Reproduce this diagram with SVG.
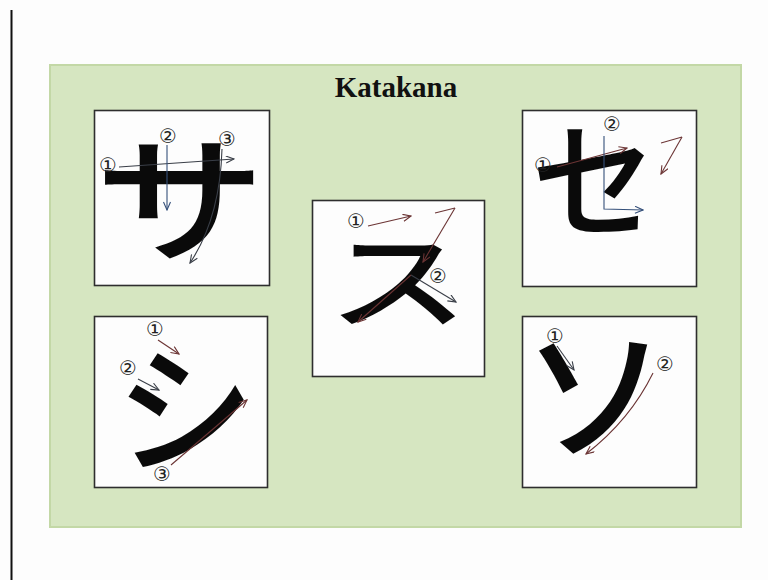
<svg xmlns="http://www.w3.org/2000/svg" width="768" height="580" viewBox="0 0 768 580">
<defs>
<style>
.panel{fill:#d6e6c1;stroke:#c3d8a6;stroke-width:2}
.box{fill:#fdfdfd;stroke:#2e2e2e;stroke-width:1.6}
.kana{font-family:"Noto Sans CJK JP","Noto Sans CJK SC",sans-serif;font-weight:500;fill:#0a0a0a;text-anchor:middle;dominant-baseline:central}
.num{font-family:"DejaVu Sans",sans-serif;font-size:20px;fill:#222;text-anchor:middle;dominant-baseline:central}
.a{fill:none;stroke:#3a3f48;stroke-width:1.1;marker-end:url(#ah)}
.r{fill:none;stroke:#6b3434;stroke-width:1.1;marker-end:url(#ahr)}
.b{fill:none;stroke:#35507a;stroke-width:1.1;marker-end:url(#ahb)}
.ln{fill:none;stroke:#6b3434;stroke-width:1.1}
.title{font-family:"Liberation Serif",serif;font-weight:bold;font-size:29px;fill:#111;text-anchor:middle}
</style>
<marker id="ah" viewBox="0 0 10 8" refX="9" refY="4" markerWidth="10" markerHeight="8" markerUnits="userSpaceOnUse" orient="auto"><path d="M1,0.5 L9,4 L1,7.5" fill="none" stroke="#3a3f48" stroke-width="1.1"/></marker>
<marker id="ahr" viewBox="0 0 10 8" refX="9" refY="4" markerWidth="10" markerHeight="8" markerUnits="userSpaceOnUse" orient="auto"><path d="M1,0.5 L9,4 L1,7.5" fill="none" stroke="#6b3434" stroke-width="1.1"/></marker>
<marker id="ahb" viewBox="0 0 10 8" refX="9" refY="4" markerWidth="10" markerHeight="8" markerUnits="userSpaceOnUse" orient="auto"><path d="M1,0.5 L9,4 L1,7.5" fill="none" stroke="#35507a" stroke-width="1.1"/></marker>
</defs>
<rect width="768" height="580" fill="#fdfdfd"/>
<line x1="11.5" y1="10" x2="11.5" y2="580" stroke="#111" stroke-width="2"/>
<rect class="panel" x="50" y="65" width="691" height="462"/>
<text class="title" x="396" y="97">Katakana</text>

<g id="sa">
<rect class="box" x="94.5" y="110.5" width="175" height="175"/>
<text class="kana" transform="translate(180,200) scale(1.04,0.83)" x="0" y="-10" font-size="165">サ</text>
<path class="a" d="M119,167 L234,159"/>
<path class="b" d="M167,145 L167,210"/>
<path class="a" d="M222,149 Q220,218 190,263"/>
<text class="num" x="108" y="165">①</text>
<text class="num" x="168" y="136">②</text>
<text class="num" x="227" y="139">③</text>
</g>

<g id="su">
<rect class="box" x="312.5" y="200.5" width="172" height="176"/>
<text class="kana" transform="translate(398,274) scale(1,0.75)" x="0" y="0" font-size="140">ス</text>
<path class="r" d="M368,226 L411,216"/>
<path class="ln" d="M435,213 L455,208"/>
<path class="r" d="M455,208 L423,262"/>
<path class="r" d="M411,275 L358,322"/>
<path class="a" d="M411,275 L456,302"/>
<text class="num" x="356" y="221">①</text>
<text class="num" x="438" y="276">②</text>
</g>

<g id="se">
<rect class="box" x="522.5" y="110.5" width="174" height="176"/>
<text class="kana" transform="translate(594,178) scale(0.9)" x="0" y="-6" font-size="140">セ</text>
<path class="r" d="M557,167 L627,148"/>
<path class="ln" d="M661,143 L682,137"/>
<path class="r" d="M682,137 L661,174"/>
<path class="b" d="M604,136 L604,209 L643,210"/>
<text class="num" x="543" y="165">①</text>
<text class="num" x="612" y="124">②</text>
</g>

<g id="shi">
<rect class="box" x="94.5" y="316.5" width="173" height="171"/>
<text class="kana" transform="translate(185,406) scale(0.9)" x="0" y="-6" font-size="155">シ</text>
<path class="r" d="M158,340 L179,354"/>
<path class="a" d="M138,379 L159,390"/>
<path class="r" d="M171,465 L247,400"/>
<text class="num" x="155" y="329">①</text>
<text class="num" x="128" y="368">②</text>
<text class="num" x="162" y="474">③</text>
</g>

<g id="so">
<rect class="box" x="522.5" y="316.5" width="174" height="171"/>
<text class="kana" transform="translate(595,398) scale(0.93)" x="0" y="-12" font-size="155">ソ</text>
<path class="a" d="M557,346 L574,370"/>
<path class="r" d="M653,373 Q630,420 586,454"/>
<text class="num" x="555" y="336">①</text>
<text class="num" x="665" y="364">②</text>
</g>
</svg>
